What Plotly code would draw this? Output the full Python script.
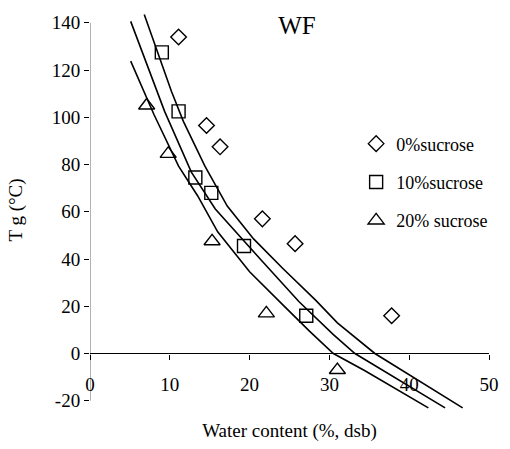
import plotly.graph_objects as go

# ---- data ----
x_s0 = [11.1, 14.6, 16.3, 21.6, 25.7, 37.8]
y_s0 = [134, 96.5, 87.5, 57, 46.5, 16]

x_s10 = [9.0, 11.1, 13.2, 15.2, 19.3, 27.1]
y_s10 = [127.5, 102.5, 74.5, 68, 45.5, 16]

x_s20 = [7.1, 9.8, 15.3, 22.1, 31.0]
y_s20 = [105, 84.5, 47.5, 17, -7]

# fitted curves
cx_upper = [6.8, 8.6, 10.2, 11.7, 14.4, 17.2, 20.5, 24.2, 28.3, 31.0, 35.7, 46.7]
cy_upper = [143.5, 126.6, 111.0, 98.3, 79.3, 62.4, 48.5, 35.9, 22.5, 13.0, 0.0, -23.0]

cx_mid = [5.1, 7.5, 9.35, 12.7, 15.7, 21.3, 26.2, 30.5, 33.2, 44.5]
cy_mid = [140.6, 119.5, 102.5, 76.8, 61.2, 40.1, 21.9, 8.0, 0.0, -23.0]

cx_low = [5.1, 8.0, 11.1, 13.5, 16.0, 20.0, 24.2, 27.5, 30.5, 34.4, 42.4]
cy_low = [123.8, 101.3, 79.3, 66.7, 51.5, 34.6, 20.5, 9.5, 0.0, -7.2, -23.0]

x_ticks = [0, 10, 20, 30, 40, 50]
y_ticks = [-20, 0, 20, 40, 60, 80, 100, 120, 140]

FONT = "Liberation Serif"
x_range = [0, 50]
y_range = [-23.5, 145]

fig = go.Figure()

for cx, cy in [(cx_upper, cy_upper), (cx_mid, cy_mid), (cx_low, cy_low)]:
    fig.add_trace(go.Scatter(x=cx, y=cy, mode="lines", line=dict(color="black", width=1.6),
                             showlegend=False, hoverinfo="skip"))

fig.add_trace(go.Scatter(x=x_s0, y=y_s0, mode="markers", name="0%sucrose", legendgroup="a",
                         marker=dict(symbol="diamond-open", size=12, color="black", line=dict(width=1.4))))
fig.add_trace(go.Scatter(x=x_s10, y=y_s10, mode="markers", name="10%sucrose", legendgroup="b",
                         marker=dict(symbol="square-open", size=13, color="black", line=dict(width=1.4))))
fig.add_trace(go.Scatter(x=x_s20, y=y_s20, mode="markers", name="20% sucrose", legendgroup="c",
                         marker=dict(symbol="triangle-up-open", size=14, color="black", line=dict(width=1.4))))

# y-axis line spanning the tick range only
fig.add_shape(type="line", xref="x", yref="y", x0=0, x1=0, y0=min(y_ticks), y1=max(y_ticks),
              line=dict(color="#999999", width=1.5), layer="below")

zero_pos = (0 - y_range[0]) / (y_range[1] - y_range[0])

fig.update_layout(
    width=510, height=449,
    margin=dict(l=90, r=13, t=11, b=39),
    paper_bgcolor="white", plot_bgcolor="white",
    font=dict(family=FONT, size=19, color="black"),
    title=dict(text="WF", x=297 / 510, xanchor="center", xref="container",
               y=1 - 25 / 449, yanchor="middle", yref="container",
               font=dict(family=FONT, size=25, color="black")),
    legend=dict(x=0.667, y=0.7125, xanchor="left", yanchor="top",
                font=dict(family=FONT, size=18, color="black"),
                bgcolor="rgba(0,0,0,0)", itemwidth=30,
                traceorder="grouped", tracegroupgap=12),
    xaxis=dict(range=x_range, tickvals=x_ticks, ticktext=[str(v) for v in x_ticks],
               showgrid=False, zeroline=False, showline=True, linecolor="black", linewidth=1.2,
               ticks="outside", ticklen=5, tickcolor="black", anchor="free", position=zero_pos,
               ticklabelstandoff=9,
               title=dict(text="Water content (%, dsb)", standoff=29,
                          font=dict(family=FONT, size=19))),
    yaxis=dict(range=y_range, tickvals=y_ticks, ticktext=[str(v) for v in y_ticks],
               showgrid=False, zeroline=False, showline=False,
               ticks="outside", ticklen=5, tickcolor="black",
               title=dict(text="T g (°C)", standoff=24, font=dict(family=FONT, size=19))),
)

fig.write_html("out.html")
